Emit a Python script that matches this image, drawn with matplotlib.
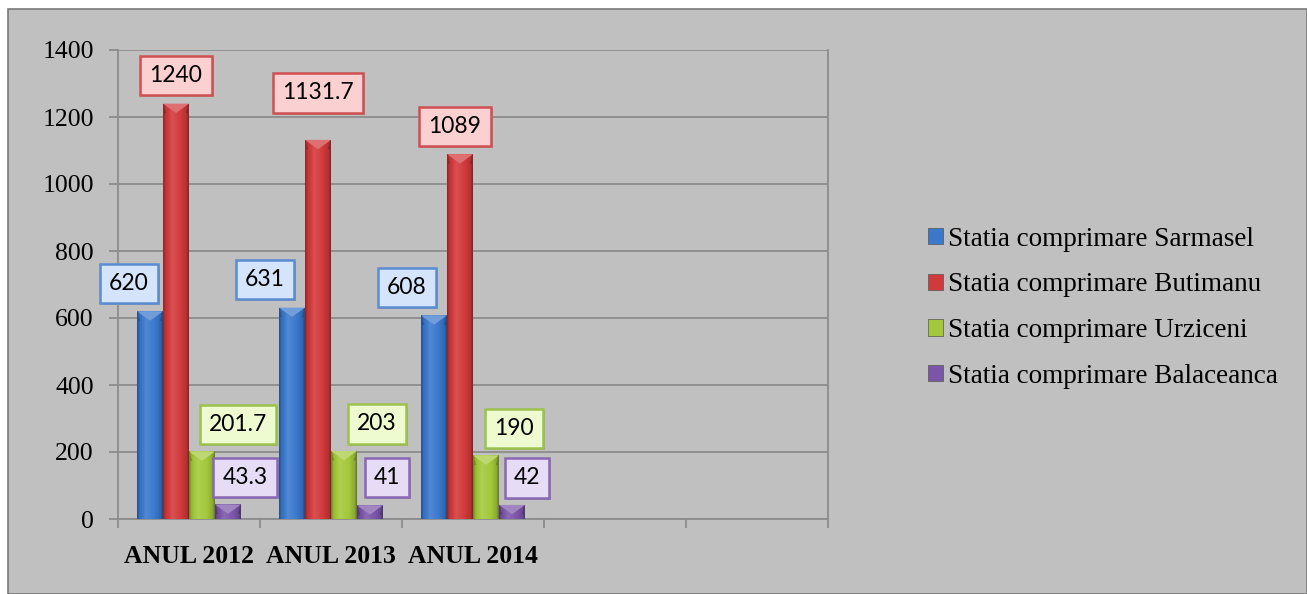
import matplotlib.pyplot as plt
import numpy as np
from matplotlib.patches import Rectangle, Polygon
from matplotlib.colors import to_rgb
import matplotlib.patheffects as pe

# date
ani = ['ANUL 2012', 'ANUL 2013', 'ANUL 2014']
statii = ['Statia comprimare Sarmasel', 'Statia comprimare Butimanu',
          'Statia comprimare Urziceni', 'Statia comprimare Balaceanca']
sarmasel = [620, 631, 608]
butimanu = [1240, 1131.7, 1089]
urziceni = [201.7, 203, 190]
balaceanca = [43.3, 41, 42]
valori = [sarmasel, butimanu, urziceni, balaceanca]
etichete = [['620', '631', '608'], ['1240', '1131.7', '1089'],
            ['201.7', '203', '190'], ['43.3', '41', '42']]
y_ticks = [0, 200, 400, 600, 800, 1000, 1200, 1400]

# stil
culori = ['#3a78cc', '#d2393b', '#a3c83a', '#7b55a8']
fond_eticheta = ['#d4e4fa', '#fbd0d0', '#eefad0', '#e6dcf5']
margine_eticheta = ['#5b8bd0', '#cf5052', '#9cc24e', '#8a67b5']
# deplasare eticheta fata de varful barei (pixeli)
depl = [[(-21, 28), (-27, 28), (-27, 28)],
        [(0, 28), (0, 47), (-5, 28)],
        [(36, 27), (33, 27), (28, 27)],
        [(17, 27), (17, 28), (15, 27)]]

W, H = 1307, 594
fig = plt.figure(figsize=(W / 100, H / 100), dpi=100)
fig.patch.set_facecolor('white')
fig.patches.append(Rectangle((8 / W, 0.5 / H), (W - 8.5) / W, (H - 9.5) / H,
                             transform=fig.transFigure, facecolor='#c0c0c0',
                             edgecolor='#7a7a7a', linewidth=1.2, zorder=-5))

ax = fig.add_axes([118 / W, 75 / H, 710 / W, 469 / H])
ax.set_zorder(2)
ax.set_facecolor('none')
n_slot = 5
ax.set_xlim(-0.5, n_slot - 0.5)
ax.set_ylim(0, 1400)
ax.set_yticks(y_ticks)
ax.set_yticklabels([str(v) for v in y_ticks], fontfamily='Liberation Serif', fontsize=18.5)
ax.grid(axis='y', color='#8c8c8c', linewidth=1.3, zorder=0)
ax.set_axisbelow(True)

for s in ['left', 'bottom', 'right']:
    ax.spines[s].set_color('#8c8c8c')
    ax.spines[s].set_linewidth(1.3)
ax.spines['top'].set_visible(False)

ax.set_xticks(range(len(ani)))
ax.set_xticklabels(ani, fontweight='bold', fontfamily='Liberation Serif', fontsize=18.5)
ax.set_xticks(np.arange(-0.5, n_slot, 1), minor=True)
ax.tick_params(axis='x', which='major', length=0, pad=19)
ax.tick_params(axis='x', which='minor', length=6.5, color='#8c8c8c', width=1.3)
ax.tick_params(axis='y', length=6.5, color='#8c8c8c', width=1.3, pad=11)

latime = 0.183
x = np.arange(len(ani))
pas_bevel = 28  # inaltime bevel in unitati de date


def amesteca(c, alt, f):
    c = np.array(to_rgb(c))
    return tuple(c * (1 - f) + np.array(to_rgb(alt)) * f)


for i, (serie, cul) in enumerate(zip(valori, culori)):
    pos = x + (i - 1.5) * latime
    bare = ax.bar(pos, serie, latime, color=cul, label=statii[i], zorder=3,
                  linewidth=0)
    # gradient orizontal
    t = np.linspace(0, 1, 64)
    prof = np.interp(t, [0, 0.08, 0.35, 0.7, 0.92, 1], [-0.35, -0.1, 0.12, 0.0, -0.15, -0.4])
    grad = np.array([amesteca(cul, 'white', p) if p > 0 else amesteca(cul, 'black', -p)
                     for p in prof])[None, :, :]
    for b, v in zip(bare, serie):
        x0, w, h = b.get_x(), b.get_width(), b.get_height()
        im = ax.imshow(grad, extent=(x0, x0 + w, 0, h), aspect='auto', zorder=3.1,
                       interpolation='bilinear')
        im.set_clip_path(b)
        bev = min(pas_bevel, h * 0.75)
        ax.add_patch(Polygon([(x0, h), (x0 + w, h), (x0 + w / 2, h - bev)],
                             closed=True, facecolor=amesteca(cul, 'white', 0.28),
                             edgecolor='none', zorder=3.2))
        ax.add_patch(Polygon([(x0, h), (x0 + w * 0.12, h - bev), (x0, h - bev)],
                             closed=True, facecolor=amesteca(cul, 'black', 0.3),
                             edgecolor='none', zorder=3.2))
        ax.add_patch(Polygon([(x0 + w, h), (x0 + w * 0.88, h - bev), (x0 + w, h - bev)],
                             closed=True, facecolor=amesteca(cul, 'black', 0.35),
                             edgecolor='none', zorder=3.2))
    # etichete
    for j, b in enumerate(bare):
        dx, dy = depl[i][j]
        a = ax.annotate(etichete[i][j], (b.get_x() + b.get_width() / 2, b.get_height()),
                        xytext=(dx * 0.72, dy * 0.72), textcoords='offset points',
                        ha='center', va='center', family='Lato', fontsize=16.5,
                        bbox=dict(boxstyle='square,pad=0.4', facecolor=fond_eticheta[i],
                                  edgecolor=margine_eticheta[i], linewidth=1.8),
                        zorder=5, annotation_clip=False)
        a.get_bbox_patch().set_path_effects([
            pe.SimplePatchShadow(offset=(1.5, -1.5), shadow_rgbFace='#888888', alpha=0.6),
            pe.Normal()])

leg = fig.legend(loc='upper left', bbox_to_anchor=(917 / W, 1 - 216 / H),
                 frameon=False, prop={'family': 'Liberation Serif', 'size': 19.5},
                 handlelength=0.55, handleheight=0.55, handletextpad=0.2,
                 labelspacing=0.76, borderaxespad=0)
for hnd in leg.legend_handles:
    hnd.set_edgecolor('#555555')
    hnd.set_linewidth(0.5)

fig.savefig('out.png', dpi=100, facecolor=fig.get_facecolor())
